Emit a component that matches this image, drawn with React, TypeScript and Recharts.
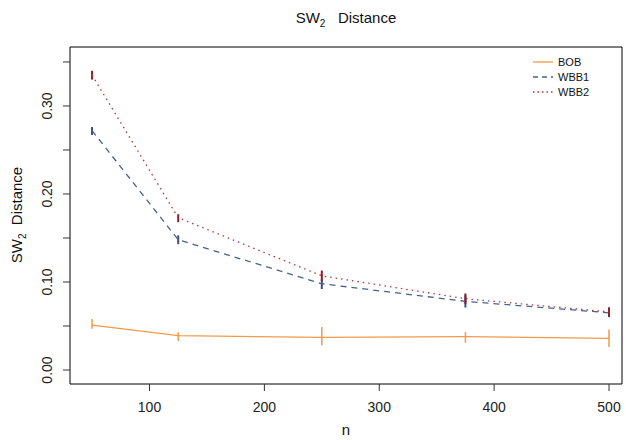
import React from 'react';
import { ComposedChart, Line, XAxis, YAxis, ErrorBar, ReferenceArea } from 'recharts';

// sample sizes
const nValues = [50, 125, 250, 375, 500];

// mean SW2 distance per method
const bobMean = [0.051, 0.039, 0.037, 0.038, 0.036];
const wbb1Mean = [0.272, 0.148, 0.098, 0.078, 0.065];
const wbb2Mean = [0.335, 0.173, 0.107, 0.081, 0.066];

// interval bounds
const bobLow = [0.047, 0.033, 0.028, 0.031, 0.026];
const bobHigh = [0.058, 0.043, 0.049, 0.043, 0.046];
const wbb1Low = [0.267, 0.143, 0.092, 0.071, 0.060];
const wbb1High = [0.276, 0.153, 0.103, 0.085, 0.071];
const wbb2Low = [0.330, 0.168, 0.101, 0.075, 0.061];
const wbb2High = [0.340, 0.177, 0.113, 0.087, 0.071];

const xTicks = [100, 200, 300, 400, 500];
const yTicks = [0, 0.05, 0.1, 0.15, 0.2, 0.25, 0.3, 0.35];

const COL_BOB = '#F09A4A';
const COL_WBB1 = '#46618F';
const COL_WBB2 = '#B5343A';

const data = nValues.map((n, i) => ({
  n,
  bob: bobMean[i],
  wbb1: wbb1Mean[i],
  wbb2: wbb2Mean[i],
  bobErr: [bobMean[i] - bobLow[i], bobHigh[i] - bobMean[i]],
  wbb1Err: [wbb1Mean[i] - wbb1Low[i], wbb1High[i] - wbb1Mean[i]],
  wbb2Err: [wbb2Mean[i] - wbb2Low[i], wbb2High[i] - wbb2Mean[i]],
}));

const font = '"Liberation Sans", Arial, sans-serif';

const YTick: React.FC<any> = ({ y, payload }) => {
  const v = payload.value;
  const major = Math.abs(Math.round(v * 10) - v * 10) < 1e-6;
  return (
    <g>
      <line x1={63} x2={70} y1={y} y2={y} stroke="#333" strokeWidth={1} />
      {major && (
        <text
          x={0}
          y={0}
          transform={`translate(${52},${y}) rotate(-90)`}
          textAnchor="middle"
          fontSize={14}
          fill="#222"
          fontFamily={font}
        >
          {v.toFixed(2)}
        </text>
      )}
    </g>
  );
};

const XTick: React.FC<any> = ({ x, payload }) => (
  <g>
    <line x1={x} x2={x} y1={384} y2={391} stroke="#333" strokeWidth={1} />
    <text x={x} y={412} textAnchor="middle" fontSize={14} fill="#222" fontFamily={font}>
      {payload.value}
    </text>
  </g>
);

const legendItems = [
  { name: 'BOB', color: COL_BOB, dash: undefined },
  { name: 'WBB1', color: COL_WBB1, dash: '5 4' },
  { name: 'WBB2', color: COL_WBB2, dash: '1.5 3' },
];

const App: React.FC = () => {
  return (
    <div style={{ position: 'absolute', left: 0, top: 0, width: 626, height: 440, background: '#fff', fontFamily: font }}>
      <ComposedChart width={626} height={440} data={data} margin={{ top: 47, right: 4, bottom: 0, left: 0 }}>
        <XAxis
          dataKey="n"
          type="number"
          domain={[30.8, 511.3]}
          ticks={xTicks}
          axisLine={false}
          tickLine={false}
          tick={<XTick />}
          height={56}
          allowDataOverflow
        />
        <YAxis
          type="number"
          domain={[-0.0159, 0.367]}
          ticks={yTicks}
          axisLine={false}
          tickLine={false}
          tick={<YTick />}
          width={70}
          allowDataOverflow
        />
        <ReferenceArea x1={30.8} x2={511.3} y1={-0.0159} y2={0.367} fill="none" stroke="#000" strokeWidth={1} ifOverflow="visible" />
        <Line type="linear" dataKey="bob" stroke={COL_BOB} strokeWidth={1.3} dot={false} isAnimationActive={false}>
          <ErrorBar dataKey="bobErr" direction="y" width={0} stroke={COL_BOB} strokeWidth={1.5} />
        </Line>
        <Line type="linear" dataKey="wbb1" stroke={COL_WBB1} strokeWidth={1.3} strokeDasharray="6 5" dot={false} isAnimationActive={false}>
          <ErrorBar dataKey="wbb1Err" direction="y" width={0} stroke="#3A4F78" strokeWidth={2} />
        </Line>
        <Line type="linear" dataKey="wbb2" stroke={COL_WBB2} strokeWidth={1.3} strokeDasharray="1.5 4" dot={false} isAnimationActive={false}>
          <ErrorBar dataKey="wbb2Err" direction="y" width={0} stroke="#8E1F24" strokeWidth={2} />
        </Line>
      </ComposedChart>
      <svg width={90} height={50} style={{ position: 'absolute', left: 531, top: 55 }}>
        {legendItems.map((it, i) => (
          <g key={it.name}>
            <line x1={2} x2={22} y1={7 + i * 15} y2={7 + i * 15} stroke={it.color} strokeWidth={1.3} strokeDasharray={it.dash} />
            <text x={27} y={11 + i * 15} fontSize={11} fill="#111" fontFamily={font}>
              {it.name}
            </text>
          </g>
        ))}
      </svg>
      <div style={{ position: 'absolute', top: 9, left: 0, width: 692, textAlign: 'center', fontSize: 15, color: '#111' }}>
        SW<sub style={{ fontSize: 10 }}>2</sub>&nbsp;&nbsp; Distance
      </div>
      <div style={{ position: 'absolute', top: 421, left: 0, width: 692, textAlign: 'center', fontSize: 15, color: '#111' }}>
        n
      </div>
      <div
        style={{
          position: 'absolute',
          left: 18,
          top: 215,
          transform: 'translate(-50%, -50%) rotate(-90deg)',
          whiteSpace: 'nowrap',
          fontSize: 15,
          color: '#111',
        }}
      >
        SW<sub style={{ fontSize: 10 }}>2</sub>&nbsp; Distance
      </div>
    </div>
  );
};

export default App;
